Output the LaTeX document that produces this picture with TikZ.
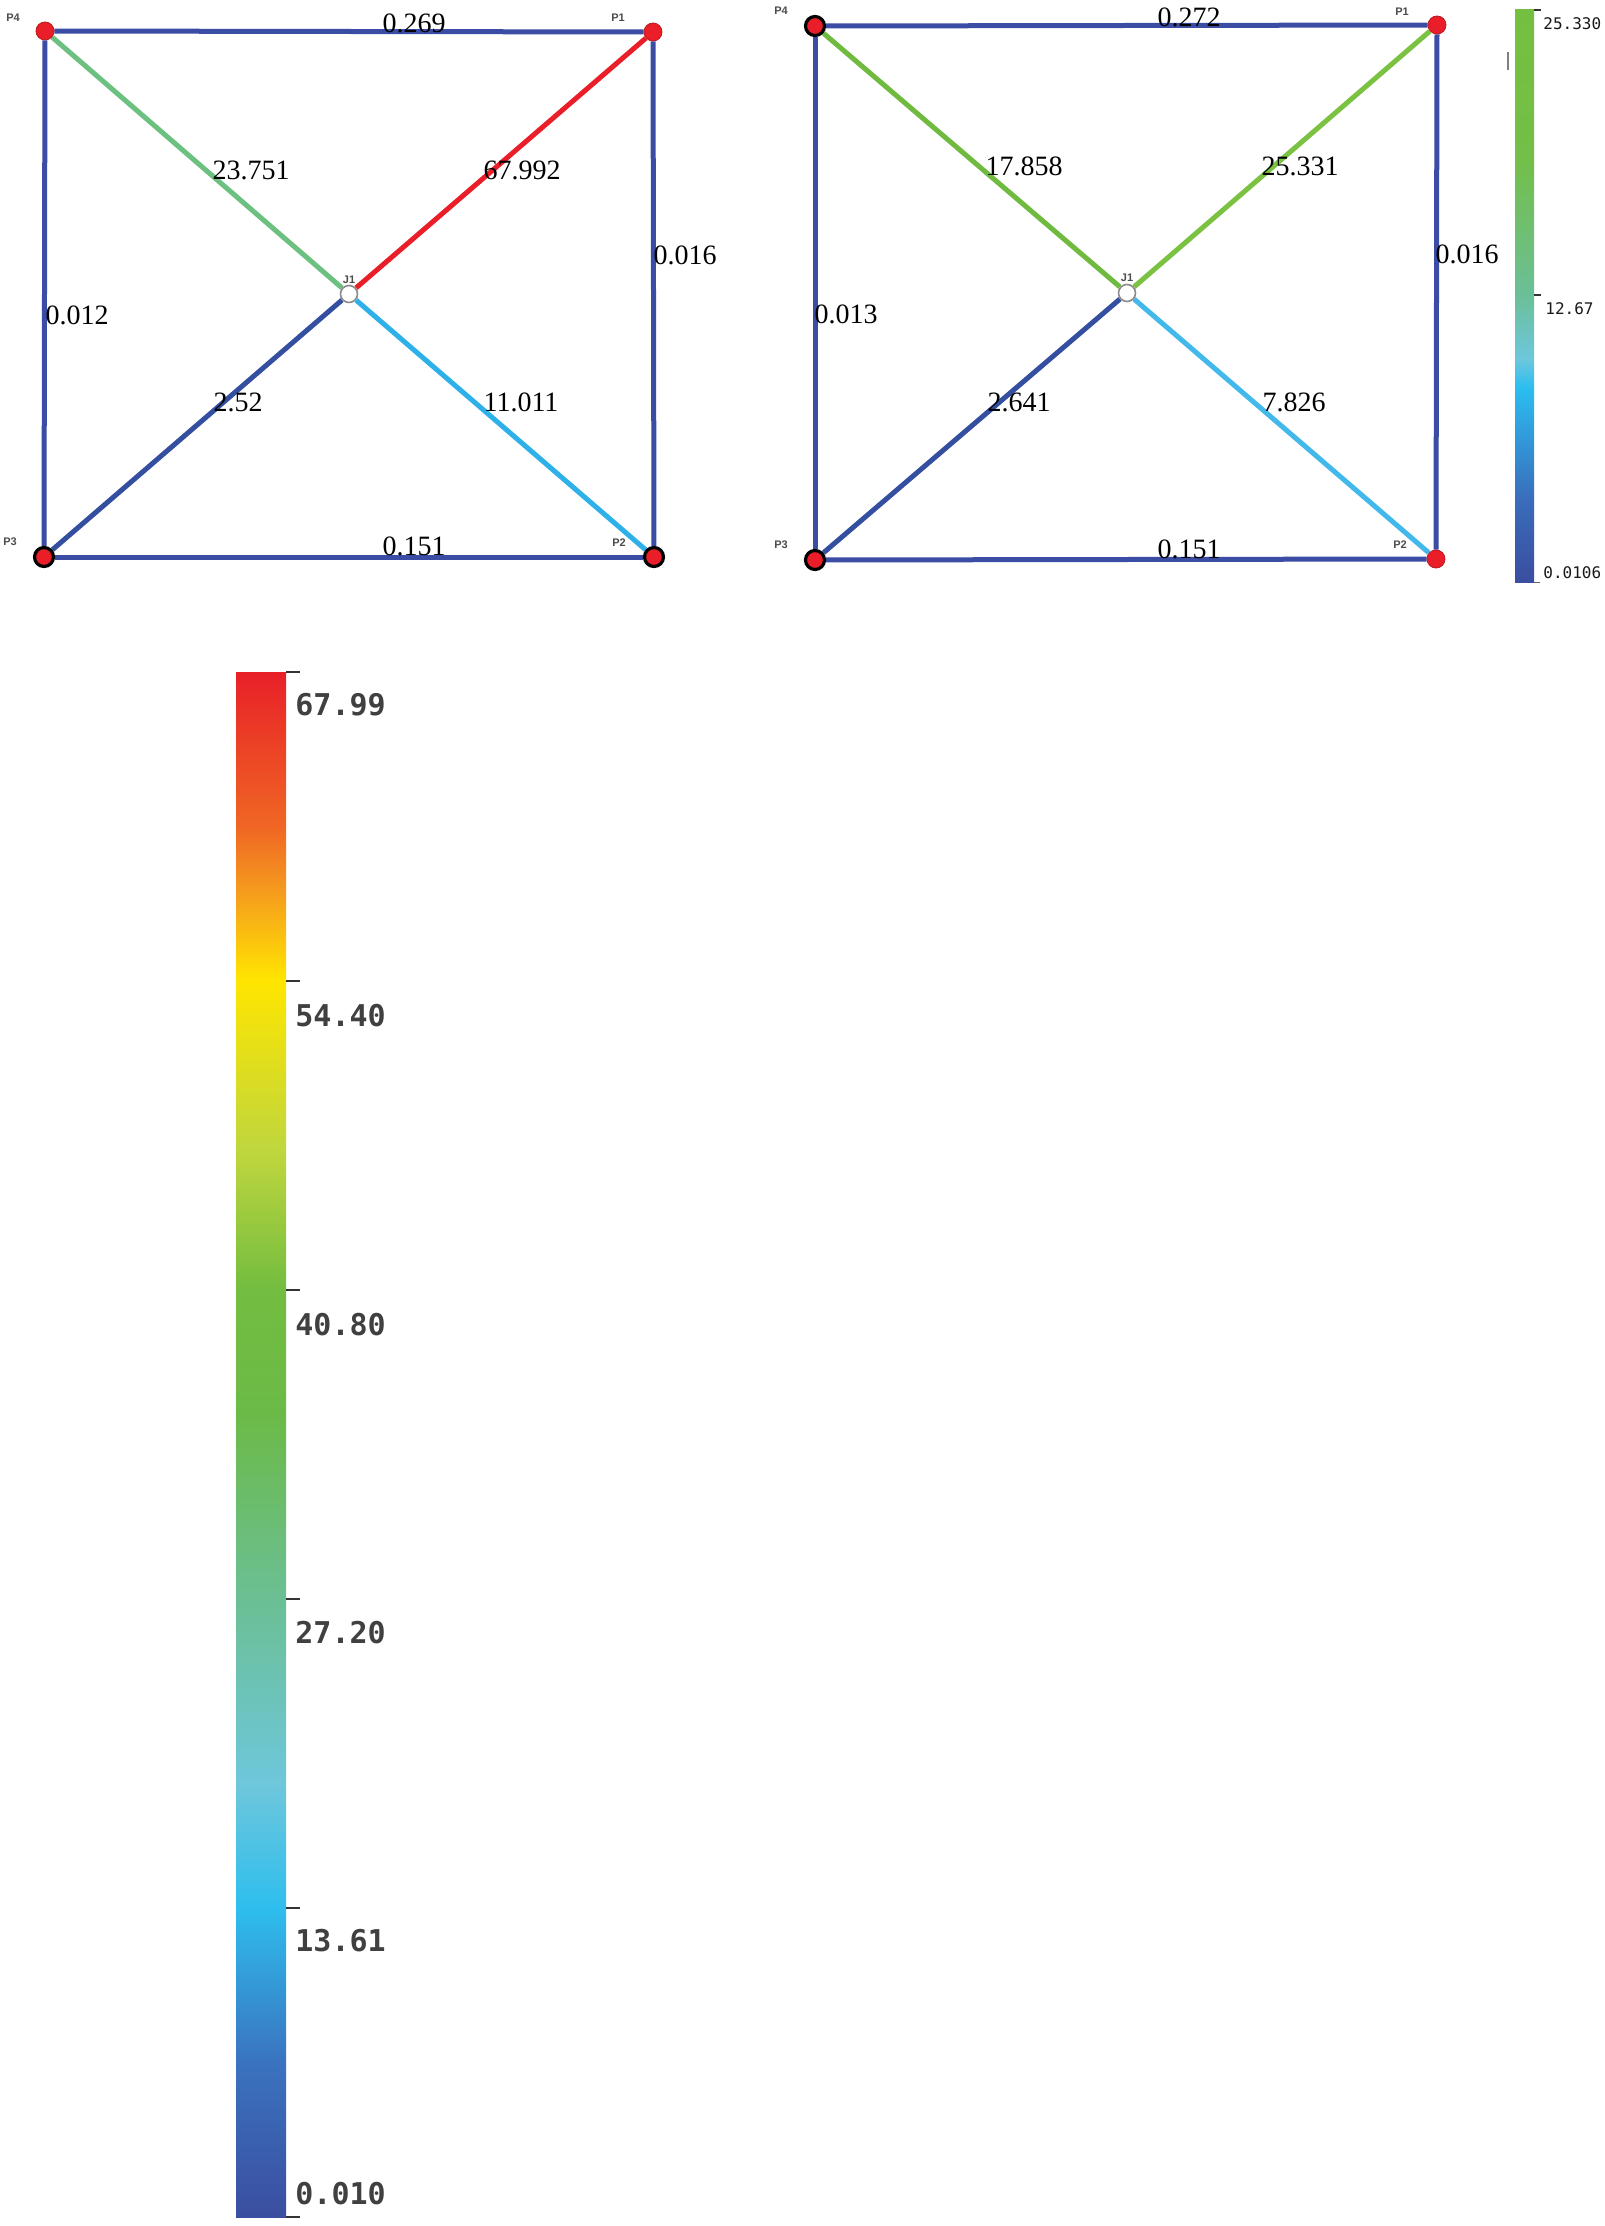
\documentclass[tikz,border=0pt]{standalone}
\usepackage{fontspec}
\setmainfont{Liberation Serif}
\newfontfamily\barfont{DejaVu Sans Mono}
\newfontfamily\tagfont{Liberation Sans}
\usetikzlibrary{backgrounds}
\definecolor{pblue}{RGB}{58,76,164}
\definecolor{pred}{RGB}{234,30,40}
\definecolor{pgreenA}{RGB}{108,192,128}
\definecolor{pgreenB}{RGB}{112,186,64}
\definecolor{pgreenC}{RGB}{124,194,66}
\definecolor{pcyan}{RGB}{46,176,232}
\definecolor{pdark}{RGB}{52,78,160}
\pgfdeclareverticalshading{leftbarshade}{100bp}{%
rgb(0bp)=(0.231,0.306,0.627);
rgb(25bp)=(0.231,0.306,0.627);
rgb(30bp)=(0.227,0.45,0.75);
rgb(35bp)=(0.18,0.745,0.933);
rgb(39bp)=(0.43,0.78,0.86);
rgb(45bp)=(0.42,0.75,0.58);
rgb(51bp)=(0.42,0.73,0.28);
rgb(55bp)=(0.45,0.74,0.25);
rgb(59.5bp)=(0.75,0.84,0.24);
rgb(65bp)=(1.0,0.9,0.0);
rgb(68bp)=(0.96,0.6,0.12);
rgb(70bp)=(0.94,0.4,0.14);
rgb(75bp)=(0.91,0.125,0.157);
rgb(100bp)=(0.91,0.125,0.157)}
\pgfdeclareverticalshading{rightbarshade}{100bp}{%
rgb(0bp)=(0.231,0.306,0.627);
rgb(25bp)=(0.231,0.306,0.627);
rgb(32bp)=(0.227,0.42,0.73);
rgb(42bp)=(0.17,0.745,0.94);
rgb(44.5bp)=(0.43,0.78,0.86);
rgb(50bp)=(0.42,0.75,0.6);
rgb(62bp)=(0.45,0.75,0.28);
rgb(75bp)=(0.46,0.75,0.25);
rgb(100bp)=(0.46,0.75,0.25)}
\begin{document}
\begin{tikzpicture}[x=0.5pt,y=-0.5pt,
  edge/.style={line width=2.5pt},
  redpt/.style={circle,fill=pred,draw=pred!80!black,line width=0.4pt,inner sep=0pt,minimum size=9pt},
  redblk/.style={circle,fill=pred,draw=black,line width=1.6pt,inner sep=0pt,minimum size=9.5pt},
  junc/.style={circle,fill=white,draw=black!45,line width=0.8pt,inner sep=0pt,minimum size=8.5pt},
  elab/.style={font=\fontsize{14}{14}\selectfont,inner sep=0pt},
  tag/.style={font=\tagfont\bfseries\fontsize{5.5}{5.5}\selectfont,text=black!70,inner sep=0pt},
  bigtick/.style={line width=1pt,black!80},
  biglab/.style={font=\barfont\bfseries\fontsize{15}{15}\selectfont,text=black!75,anchor=west,inner sep=0pt},
  smalllab/.style={font=\barfont\fontsize{8}{8}\selectfont,text=black!90,anchor=west,inner sep=0pt}]
\useasboundingbox (0,0) rectangle (1605,2226);
% ---------- left network ----------
\node[redpt]  (L4) at (45,31) {};
\node[redpt]  (L1) at (653,32) {};
\node[redblk] (L3) at (44,557) {};
\node[redblk] (L2) at (654,557) {};
\node[junc]   (LJ) at (349,294) {};
\begin{pgfonlayer}{background}
\draw[edge,pblue] (L4) -- (L1);
\draw[edge,pblue] (L1) -- (L2);
\draw[edge,pblue] (L4) -- (L3);
\draw[edge,pblue] (L3) -- (L2);
\draw[edge,pgreenA] (L4) -- (LJ);
\draw[edge,pred] (LJ) -- (L1);
\draw[edge,pdark] (L3) -- (LJ);
\draw[edge,pcyan] (LJ) -- (L2);
\end{pgfonlayer}
\node[elab] (la1) at (414,23) {0.269};
\node[elab] (la2) at (251,170) {23.751};
\node[elab] (la3) at (522,170) {67.992};
\node[elab] (la4) at (685,255) {0.016};
\node[elab] (la5) at (77,315) {0.012};
\node[elab] (la6) at (238,402) {2.52};
\node[elab] (la7) at (521,402) {11.011};
\node[elab] (la8) at (414,546) {0.151};
\node[tag] (lt4) at (13,18) {P4};
\node[tag] (lt1) at (618,18) {P1};
\node[tag] (lt3) at (10,542) {P3};
\node[tag] (lt2) at (619,543) {P2};
\node[tag] (ltj) at (349,280) {J1};
% ---------- right network ----------
\node[redblk] (R4) at (815,26) {};
\node[redpt]  (R1) at (1437,25) {};
\node[redblk] (R3) at (815,560) {};
\node[redpt]  (R2) at (1436,559) {};
\node[junc]   (RJ) at (1127,293) {};
\begin{pgfonlayer}{background}
\draw[edge,pblue] (R4) -- (R1);
\draw[edge,pblue] (R1) -- (R2);
\draw[edge,pblue] (R4) -- (R3);
\draw[edge,pblue] (R3) -- (R2);
\draw[edge,pgreenB] (R4) -- (RJ);
\draw[edge,pgreenC] (RJ) -- (R1);
\draw[edge,pdark] (R3) -- (RJ);
\draw[edge,pcyan!90!white] (RJ) -- (R2);
\end{pgfonlayer}
\node[elab] (ra1) at (1189,17) {0.272};
\node[elab] (ra2) at (1024,166) {17.858};
\node[elab] (ra3) at (1300,166) {25.331};
\node[elab] (ra4) at (1467,254) {0.016};
\node[elab] (ra5) at (846,314) {0.013};
\node[elab] (ra6) at (1019,402) {2.641};
\node[elab] (ra7) at (1294,402) {7.826};
\node[elab] (ra8) at (1189,549) {0.151};
\node[tag] (rt4) at (781,11) {P4};
\node[tag] (rt1) at (1402,12) {P1};
\node[tag] (rt3) at (781,545) {P3};
\node[tag] (rt2) at (1400,545) {P2};
\node[tag] (rtj) at (1127,278) {J1};
% ---------- right colour bar ----------
\shade[shading=rightbarshade] (1515,10) rectangle (1534,582);
\draw[black!80,line width=0.8pt] (1534,10) -- (1541,10);
\draw[black!80,line width=0.8pt] (1534,295) -- (1541,295);
\draw[black!60,line width=0.5pt] (1534,582) -- (1540,582);
\draw[black!50,line width=0.6pt] (1508,52) -- (1508,70);
\node[smalllab] (rb1) at (1543,24) {25.330};
\node[smalllab] (rb2) at (1545,309) {12.67};
\node[smalllab] (rb3) at (1543,573) {0.0106};
% ---------- left colour bar ----------
\shade[shading=leftbarshade] (236,672) rectangle (286,2217);
\foreach \yy in {672,981,1290,1599,1908,2217}
  \draw[bigtick] (286,\yy) -- (300,\yy);
\node[biglab] (lb1) at (295,705) {67.99};
\node[biglab] (lb2) at (295,1016) {54.40};
\node[biglab] (lb3) at (295,1325) {40.80};
\node[biglab] (lb4) at (295,1633) {27.20};
\node[biglab] (lb5) at (295,1941) {13.61};
\node[biglab] (lb6) at (295,2194) {0.010};
\end{tikzpicture}
\end{document}
